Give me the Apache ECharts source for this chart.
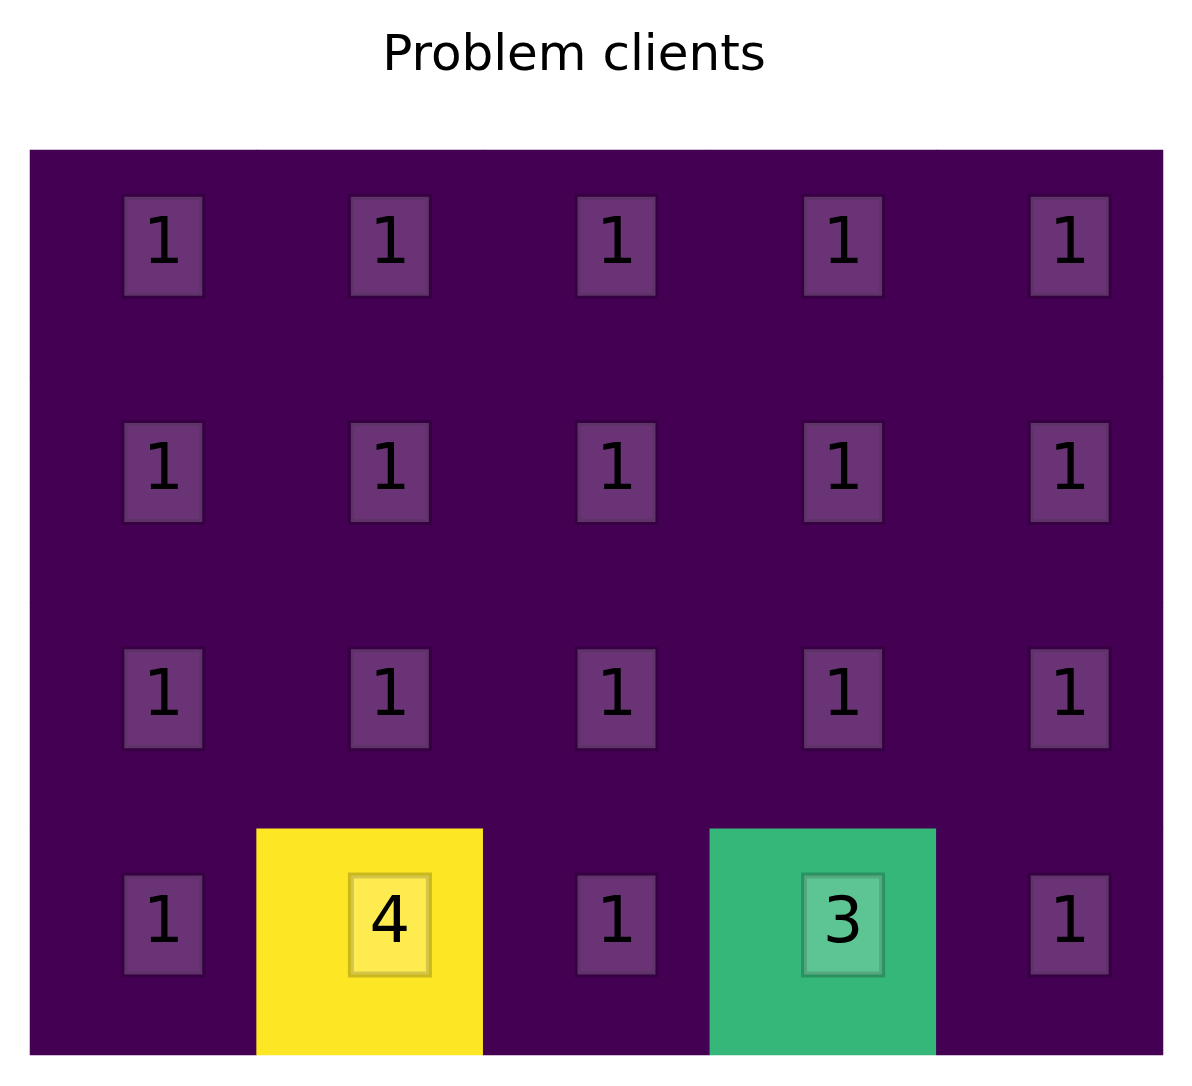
<!DOCTYPE html>
<html>
<head>
<meta charset="utf-8">
<script src="https://cdn.jsdelivr.net/npm/echarts@6/dist/echarts.min.js"></script>
<style>html,body{margin:0;padding:0;background:#fff;}#c{width:1192px;height:1086px;}</style>
</head>
<body>
<div id="c"></div>
<script>
const titleText = 'Problem clients';
const columns = ['c0','c1','c2','c3','c4'];
const rows = ['r0','r1','r2','r3'];
const row0 = [1,1,1,1,1];
const row1 = [1,1,1,1,1];
const row2 = [1,1,1,1,1];
const row3 = [1,4,1,3,1];
const grid = [row0,row1,row2,row3];
const viridis = ['#440154','#482878','#3e4989','#31688e','#26828e','#1f9e89','#35b779','#6ece58','#b5de2b','#fde725'];

const data = [];
grid.forEach((r, ri) => r.forEach((v, ci) => data.push([ci, ri, v])));

const chart = echarts.init(document.getElementById('c'), null, {renderer:'canvas'});
chart.setOption({
  animation: false,
  backgroundColor: '#ffffff',
  title: {
    text: titleText,
    left: 569, top: 27,
    textAlign: 'center',
    textStyle: {fontFamily: 'DejaVu Sans', fontSize: 50, fontWeight: 'normal', color: '#000'}
  },
  grid: {left: 30, right: 29, top: 150, bottom: 31, show: true, backgroundColor: '#440154', borderWidth: 0},
  xAxis: {type: 'category', data: columns, show: false},
  yAxis: {type: 'category', data: rows, inverse: true, show: false},
  visualMap: {show: false, min: 1, max: 4, calculable: false, inRange: {color: viridis}},
  series: [{
    type: 'heatmap',
    data: data,
    itemStyle: {borderWidth: 0},
    label: {
      show: true,
      formatter: p => String(p.value[2]),
      fontFamily: 'DejaVu Sans',
      fontSize: 64,
      color: '#000',
      backgroundColor: 'rgba(255,255,255,0.2)',
      borderColor: 'rgba(0,0,0,0.2)',
      borderWidth: 3,
      width: 78,
      height: 99,
      lineHeight: 99,
      align: 'center',
      verticalAlign: 'middle',
      offset: [20, -17]
    },
    emphasis: {disabled: true}
  }]
});
</script>
</body>
</html>
